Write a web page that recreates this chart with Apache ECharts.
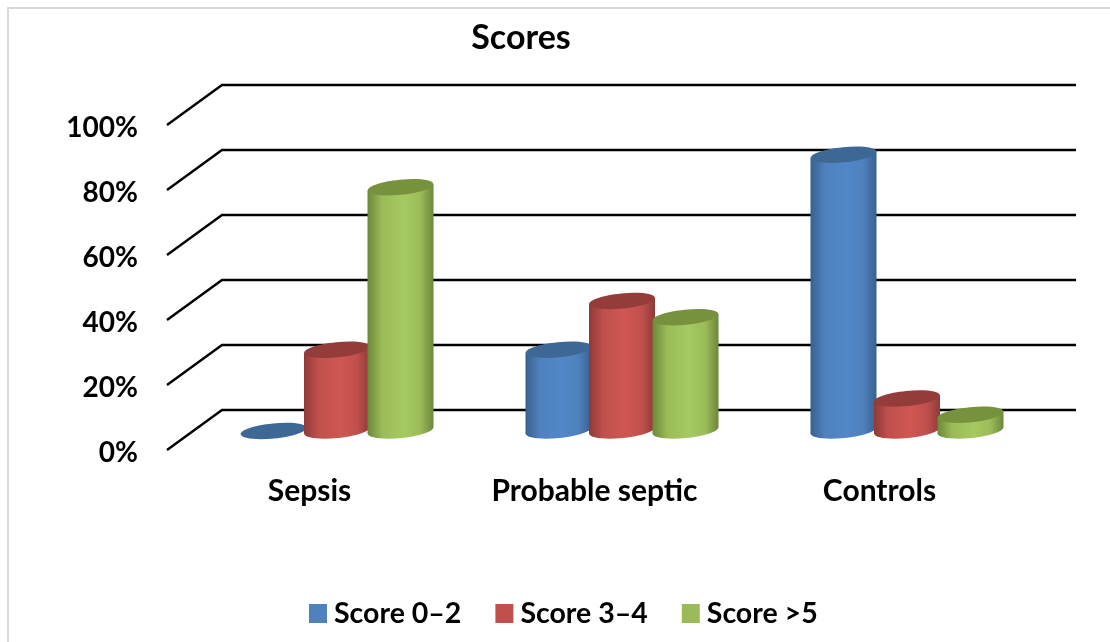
<!DOCTYPE html>
<html>
  <head>
    <meta charset="utf-8" />
    <title>Scores</title>
    <script src="https://cdn.jsdelivr.net/npm/echarts@6/dist/echarts.min.js"></script>
    <style>
      html, body { margin: 0; padding: 0; background: #fff; }
    </style>
  </head>
  <body>
    <div id="main" style="width: 1110px;height:642px;"></div>
    <script type="text/javascript">
      var categories = ["Sepsis", "Probable septic", "Controls"];
      var seriesNames = ["Score 0–2", "Score 3–4", "Score >5"];
      var score02 = [0, 25, 85];
      var score34 = [25, 40, 10];
      var score5 = [75, 35, 5];
      var yTicks = [0, 20, 40, 60, 80, 100];

      var myChart = echarts.init(document.getElementById("main"));

      // fake 3d: wall sits this far behind the axis plane, bars half way
      var depthX = 55, depthY = 40;
      var wallRight = 1076;
      var barW = 66, barRy = 7.5, tilt = 0.1;
      var barStep = 63.5;

      // [legend, edge, light, top]
      var colors = [
        ["#4f81bd", "#38618f", "#5187c8", "#3d6896"],
        ["#c0504d", "#8f3a37", "#cf5752", "#943c39"],
        ["#9bbb59", "#6c8839", "#a5ca61", "#76923c"]
      ];

      function bodyFill(c) {
        return new echarts.graphic.LinearGradient(0, 0, 1, 0, [
          { offset: 0, color: c[1] },
          { offset: 0.22, color: c[0] },
          { offset: 0.55, color: c[2] },
          { offset: 0.8, color: c[0] },
          { offset: 1, color: c[1] }
        ]);
      }

      function ellipse(cx, cy, fill) {
        return {
          type: "ellipse",
          x: cx,
          y: cy,
          rotation: tilt,
          shape: { cx: 0, cy: 0, rx: barW / 2, ry: barRy },
          style: { fill: fill }
        };
      }

      function barSeries(name, values, idx) {
        return {
          name: name,
          type: "custom",
          coordinateSystem: "cartesian2d",
          itemStyle: { color: colors[idx][0] },
          data: values.map(function (v, i) { return [i, v]; }),
          z: 3 + idx,
          renderItem: function (params, api) {
            var p = api.coord([api.value(0), api.value(1)]);
            var base = api.coord([api.value(0), 0]);
            var cx = p[0] + depthX / 2 + (idx - 1) * barStep;
            var top = p[1] - depthY / 2 + 1;
            var bottom = base[1] - depthY / 2 + 0.5;
            var c = colors[idx];
            var dy = (barW / 2) * tilt;
            var kids = [];
            if (api.value(1) > 0) {
              kids.push(ellipse(cx, bottom, bodyFill(c)));
              kids.push({
                type: "polygon",
                shape: {
                  points: [
                    [cx - barW / 2, top + dy],
                    [cx + barW / 2, top - dy],
                    [cx + barW / 2, bottom - dy],
                    [cx - barW / 2, bottom + dy]
                  ]
                },
                style: { fill: bodyFill(c) }
              });
            }
            kids.push(ellipse(cx, top, c[3]));
            return { type: "group", children: kids };
          }
        };
      }

      var option = {
        backgroundColor: "#fff",
        animation: false,
        textStyle: { fontFamily: "Lato" },
        title: {
          text: "Scores",
          left: 516,
          top: 16,
          textAlign: "center",
          textStyle: { fontFamily: "Lato", fontSize: 34, fontWeight: "bold", color: "#000" }
        },
        legend: {
          data: seriesNames,
          left: 304,
          top: 594,
          itemWidth: 18,
          itemHeight: 19,
          itemGap: 34,
          icon: "rect",
          textStyle: { fontFamily: "Lato", fontSize: 28.5, fontWeight: "bold", color: "#000", padding: [0, 0, 0, 2] }
        },
        graphic: [
          {
            type: "rect",
            silent: true,
            z: -1,
            shape: { x: 8, y: 8, width: 1200, height: 800 },
            style: { fill: "#fff", stroke: "#d9d9d9", lineWidth: 2 }
          }
        ],
        grid: { left: 167, top: 125, width: 855, height: 325 },
        xAxis: {
          type: "category",
          data: categories,
          axisLine: { show: false },
          axisTick: { show: false },
          axisLabel: {
            margin: 26,
            fontFamily: "Lato",
            fontSize: 30,
            fontWeight: "bold",
            color: "#000"
          }
        },
        yAxis: {
          type: "value",
          min: 0,
          max: 100,
          interval: 20,
          axisLine: { show: false },
          axisTick: { show: false },
          splitLine: { show: false },
          axisLabel: {
            margin: 29,
            color: "#000",
            formatter: "{v|{value}%}",
            rich: {
              v: {
                fontFamily: "Lato",
                fontSize: 28,
                fontWeight: "bold",
                color: "#000",
                padding: [6, 0, 0, 0]
              }
            }
          }
        },
        series: [
          {
            name: "wall",
            type: "custom",
            coordinateSystem: "cartesian2d",
            silent: true,
            z: 1,
            data: yTicks.map(function (t) { return [0, t]; }),
            renderItem: function (params, api) {
              var p = api.coord([0, api.value(1)]);
              var left = params.coordSys.x;
              return {
                type: "polyline",
                shape: {
                  points: [
                    [left, p[1]],
                    [left + depthX, p[1] - depthY],
                    [wallRight, p[1] - depthY]
                  ]
                },
                style: { fill: null, stroke: "#000", lineWidth: 2.4 }
              };
            }
          },
          barSeries(seriesNames[0], score02, 0),
          barSeries(seriesNames[1], score34, 1),
          barSeries(seriesNames[2], score5, 2)
        ]
      };

      myChart.setOption(option);
    </script>
  </body>
</html>
